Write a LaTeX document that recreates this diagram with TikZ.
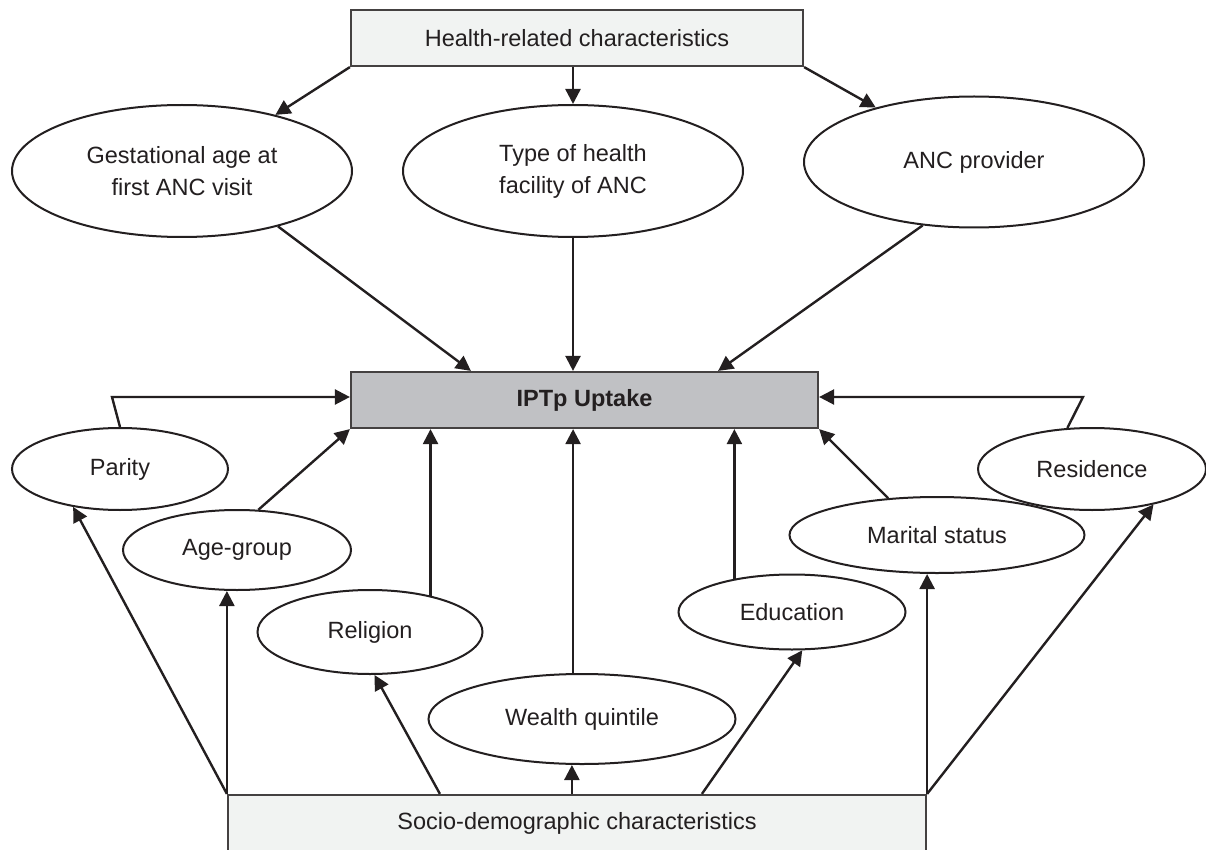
\documentclass[tikz,border=0pt]{standalone}
\usepackage{fontspec}
\setmainfont{Liberation Sans}
\usetikzlibrary{shapes.geometric,arrows.meta,calc}
\definecolor{ink}{HTML}{231F20}
\definecolor{lightbox}{HTML}{F1F3F2}
\definecolor{midbox}{HTML}{C0C1C4}
\begin{document}
\begin{tikzpicture}[x=1pt,y=-1pt,
  every node/.style={font=\fontsize{23.5}{32}\selectfont, text=ink},
  oval/.style={ellipse, draw=ink, line width=2pt, fill=white, inner sep=0pt, align=center},
  box/.style={rectangle, draw=ink!85, line width=2.2pt, inner sep=0pt, minimum height=56pt},
  arr/.style={draw=ink, line width=2.4pt, -{Triangle[length=15pt,width=15pt]}},
  ln/.style={draw=ink, line width=2.4pt}]
\useasboundingbox (0,0) rectangle (1206,850);
\clip (0,0) rectangle (1206,850);

% boxes
\node[box, fill=lightbox, minimum width=452pt] (top) at (577,38) {Health-related characteristics};
\node[box, fill=midbox, minimum width=467pt] (iptp) at (584.5,400) {\bfseries IPTp Uptake};
\node[box, fill=lightbox, minimum width=698pt] (bot) at (577,823) {Socio-demographic characteristics};

% upper ellipses
\node[oval, minimum width=340pt, minimum height=132pt] (gest) at (182,171) {Gestational age at\\first ANC visit};
\node[oval, minimum width=340pt, minimum height=132pt] (type) at (573,171) {Type of health\\facility of ANC};
\node[oval, minimum width=340pt, minimum height=131pt] (anc) at (974,162) {ANC provider};

% lower ellipses
\node[oval, minimum width=216pt, minimum height=82pt] (parity) at (120,469) {Parity};
\node[oval, minimum width=228pt, minimum height=80pt] (age) at (237,550) {Age-group};
\node[oval, minimum width=225pt, minimum height=84pt] (religion) at (370,632) {Religion};
\node[oval, minimum width=307pt, minimum height=90pt] (wealth) at (582,719) {Wealth quintile};
\node[oval, minimum width=227pt, minimum height=75pt] (education) at (792,612) {Education};
\node[oval, minimum width=295pt, minimum height=76pt] (marital) at (937,535) {Marital status};
\node[oval, minimum width=228pt, minimum height=82pt] (residence) at (1092,469) {Residence};

% helper coordinates
\coordinate (pk) at (112,397);
\coordinate (rk) at (1083,397);
\coordinate (brel) at ($(bot.north west)+(213,0)$);
\coordinate (bwea) at ($(bot.north west)+(345,0)$);
\coordinate (bedu) at ($(bot.north west)+(475,0)$);
\coordinate (igest) at ($(iptp.north west)+(121,0)$);
\coordinate (ianc) at ($(iptp.north east)+(-101,0)$);

% health-related arrows
\draw[arr] (top.south west) -- (gest.31);
\draw[arr] (type.north |- top.south) -- (type.north);
\draw[arr] (top.south east) -- (anc.151);
\draw[arr] (gest.-30) -- (igest);
\draw[arr] (type.south) -- (type.south |- iptp.north);
\draw[arr] (anc.-129) -- (ianc);

% lower to IPTp
\draw[arr] (parity.north) -- (pk) -- (pk -| iptp.west);
\draw[arr] (age.62) -- (iptp.south west);
\draw[arr] (religion.31) -- (religion.31 |- iptp.south);
\draw[arr] (wealth.101) -- (wealth.101 |- iptp.south);
\draw[arr] (education.150) -- (education.150 |- iptp.south);
\draw[arr] (marital.143) -- (iptp.south east);
\draw[arr] (residence.121) -- (rk) -- (rk -| iptp.east);

% socio-demographic arrows
\draw[arr] (bot.north west) -- (parity.-141);
\draw[arr] (bot.north west) -- (bot.north west |- age.south);
\draw[arr] (brel) -- (religion.-84);
\draw[arr] (bwea) -- (bwea |- wealth.south);
\draw[arr] (bedu) -- (education.-75);
\draw[arr] (bot.north east) -- (bot.north east |- marital.south);
\draw[arr] (bot.north east) -- (residence.-30);
\end{tikzpicture}
\end{document}
